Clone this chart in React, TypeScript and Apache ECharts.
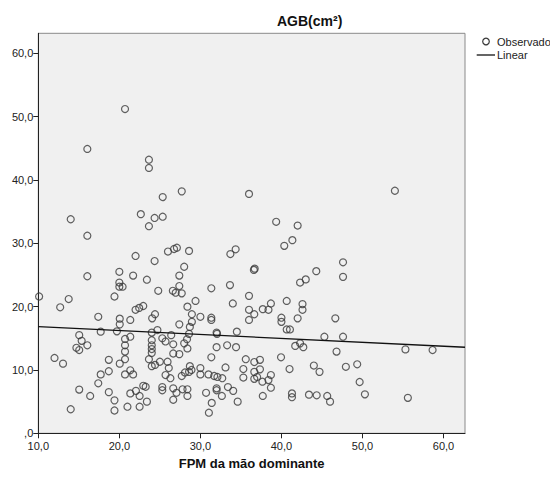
import React, { useEffect, useRef } from "react";
import * as echarts from "echarts";

// Tick values
const xTicks = [10, 20, 30, 40, 50, 60];
const yTicks = [0, 10, 20, 30, 40, 50, 60];

// Observed points: [FPM da mão dominante, AGB(cm²)]
const observados: [number, number][] = [
  [20.7, 51.2], [16.05, 44.9], [23.65, 43.2], [23.65, 41.9], [27.7, 38.2], [25.35, 37.3],
  [14.0, 33.8], [22.65, 34.6], [24.35, 34.0], [25.35, 34.2], [23.65, 32.7], [16.05, 31.2],
  [22.0, 28.0], [24.35, 27.2], [26.0, 28.7], [26.75, 29.1], [27.1, 29.3], [28.6, 28.8],
  [28.0, 26.3], [20.0, 25.5],
  [36.0, 37.8], [39.35, 33.4], [42.0, 32.8], [41.35, 30.5], [40.35, 29.6], [34.35, 29.05],
  [33.7, 28.3], [36.6, 25.8], [36.7, 26.0], [44.3, 25.6], [47.6, 27.0],
  [54.0, 38.3],
  [10.1, 21.6], [16.05, 24.8], [21.7, 24.9], [20.0, 23.8], [20.0, 23.15], [20.4, 23.15],
  [19.4, 21.6], [13.75, 21.2], [12.7, 19.9], [17.4, 18.4], [20.05, 18.1], [20.05, 17.2],
  [21.35, 17.9], [17.7, 16.05], [19.7, 16.1], [15.05, 15.5], [15.35, 14.6], [14.7, 13.5],
  [15.05, 13.15], [16.05, 13.9], [20.7, 14.9], [21.35, 15.25], [20.7, 13.9], [20.7, 12.9],
  [20.7, 11.7], [20.05, 11.0], [18.7, 11.6], [12.0, 11.9], [13.05, 11.0], [21.35, 9.95],
  [20.7, 9.3], [21.7, 9.3], [18.7, 9.8], [17.7, 9.3], [17.4, 7.9], [15.05, 6.9],
  [16.4, 5.9], [18.7, 6.5], [19.4, 5.2], [21.35, 6.3], [22.05, 6.7], [22.5, 5.9],
  [14.0, 3.8], [19.4, 3.6], [21.0, 4.2], [22.5, 4.2],
  [27.4, 24.9], [23.4, 24.25], [27.4, 23.25], [24.8, 22.5], [26.6, 22.5], [26.95, 22.2],
  [27.7, 22.1], [31.35, 22.9], [33.65, 23.4], [29.4, 20.9], [28.4, 20.0], [34.0, 20.5],
  [22.0, 19.5], [22.45, 19.8], [22.95, 20.1], [28.95, 18.8], [30.0, 18.4], [31.35, 18.25],
  [31.35, 17.9], [24.4, 18.8], [24.05, 18.15], [27.4, 17.2], [28.95, 17.6], [28.7, 16.8],
  [24.0, 15.9], [24.7, 16.3], [25.3, 15.0], [25.7, 14.5], [26.4, 15.5], [28.6, 15.7],
  [28.35, 14.85], [28.0, 14.2], [32.0, 15.9], [32.05, 15.7], [34.5, 16.05], [24.0, 14.7],
  [24.0, 13.9], [24.0, 13.3], [24.0, 12.7], [26.65, 14.05], [26.65, 12.6], [27.4, 12.5],
  [28.4, 13.4], [31.35, 12.0], [32.0, 13.6], [33.3, 13.9], [34.4, 13.6], [23.65, 11.7],
  [24.0, 10.6], [24.4, 10.8], [25.0, 11.3], [25.95, 11.3], [26.1, 10.3], [25.7, 9.2],
  [26.3, 8.7], [28.7, 10.6], [28.9, 10.0], [28.6, 9.7], [28.1, 9.6], [27.7, 9.05],
  [30.0, 10.3], [30.0, 9.3], [31.0, 9.3], [31.7, 9.05], [32.1, 8.9], [32.7, 8.7],
  [33.1, 10.4], [22.95, 7.5], [23.25, 7.35], [25.3, 7.3], [25.3, 6.8], [26.65, 7.1],
  [27.05, 6.4], [27.8, 6.95], [28.4, 6.95], [28.4, 5.9], [26.65, 5.3], [30.7, 6.4],
  [32.0, 7.1], [32.0, 6.8], [32.65, 5.9], [33.4, 7.3], [34.05, 6.7], [31.4, 4.8],
  [31.05, 3.25], [34.6, 5.0], [23.4, 5.0],
  [42.3, 23.8], [43.0, 24.3], [36.0, 21.7], [36.0, 19.5], [36.0, 17.9], [36.65, 18.8],
  [37.7, 19.6], [38.4, 19.5], [38.7, 20.5], [40.65, 20.9], [42.6, 20.4], [42.6, 19.5],
  [42.0, 18.15], [40.0, 18.25], [40.0, 17.6], [40.65, 16.4], [41.05, 16.4], [46.65, 18.15],
  [45.3, 15.25], [41.7, 13.8], [42.3, 14.2], [42.7, 13.6], [46.8, 12.9], [35.6, 11.7],
  [36.65, 11.25], [37.35, 11.6], [35.3, 10.15], [35.3, 8.8], [36.65, 9.7], [37.35, 10.1],
  [36.65, 8.6], [37.0, 8.9], [37.65, 8.15], [38.4, 8.4], [38.7, 9.2], [38.7, 7.2],
  [39.95, 12.0], [41.0, 10.15], [44.0, 10.7], [44.7, 9.7], [37.7, 5.9], [41.3, 6.3],
  [41.3, 5.7], [43.4, 6.1], [44.35, 6.0], [45.65, 5.9], [46.0, 5.0],
  [47.6, 24.7], [47.6, 15.25], [47.95, 10.5], [49.35, 10.9], [49.65, 8.1], [50.3, 6.15],
  [55.3, 13.25], [58.65, 13.15], [55.6, 5.6],
];

// Linear fit
const fitIntercept = 17.45;
const fitSlope = -0.0617;

const X_MIN = 10;
const X_MAX = 62.65;
const Y_MIN = 0;
const Y_MAX = 63.16;

const FONT = "'Liberation Sans', Arial, sans-serif";

const fmt = (v: number) => (v === 0 ? ",0" : v.toFixed(1).replace(".", ","));

export default function App() {
  const ref = useRef<HTMLDivElement>(null);

  useEffect(() => {
    if (!ref.current) return;
    const chart = echarts.init(ref.current, undefined, { renderer: "svg" });
    const fitLine = [X_MIN, X_MAX].map((x) => [x, fitIntercept + fitSlope * x]);

    chart.setOption({
      animation: false,
      backgroundColor: "#ffffff",
      title: {
        text: "AGB(cm²)",
        left: 277,
        top: 14,
        padding: 0,
        textStyle: { fontFamily: FONT, fontSize: 14, fontWeight: "bold", color: "#111" },
      },
      grid: {
        left: 38.3,
        top: 33.3,
        right: 85,
        bottom: 44.7,
        show: true,
        backgroundColor: "#f0f0f0",
        borderColor: "#8a8a8a",
        borderWidth: 1,
      },
      xAxis: {
        type: "value",
        min: X_MIN,
        max: X_MAX,
        interval: 10,
        splitLine: { show: false },
        axisLine: { show: true, onZero: false, lineStyle: { color: "#222", width: 1 } },
        axisTick: { show: true, length: 5, customValues: xTicks, lineStyle: { color: "#222" } },
        axisLabel: {
          customValues: xTicks,
          formatter: fmt,
          margin: 7,
          fontFamily: FONT,
          fontSize: 11,
          color: "#222",
        },
        name: "FPM da mão dominante",
        nameLocation: "middle",
        nameGap: 24,
        nameTextStyle: { fontFamily: FONT, fontSize: 13, fontWeight: "bold", color: "#111" },
      },
      yAxis: {
        type: "value",
        min: Y_MIN,
        max: Y_MAX,
        interval: 10,
        splitLine: { show: false },
        axisLine: { show: true, onZero: false, lineStyle: { color: "#222", width: 1 } },
        axisTick: { show: true, length: 5, customValues: yTicks, lineStyle: { color: "#222" } },
        axisLabel: {
          customValues: yTicks,
          formatter: fmt,
          margin: 5,
          fontFamily: FONT,
          fontSize: 11,
          color: "#222",
        },
      },
      series: [
        {
          name: "Observado",
          type: "scatter",
          data: observados,
          symbol: "circle",
          symbolSize: 7,
          itemStyle: { color: "transparent", borderColor: "#3a3a3a", borderWidth: 1.2 },
          z: 3,
        },
        {
          name: "Linear",
          type: "line",
          data: fitLine,
          symbol: "none",
          lineStyle: { color: "#111", width: 1.3 },
          z: 4,
        },
      ],
      graphic: [
        {
          type: "circle",
          shape: { cx: 486, cy: 41.5, r: 3.3 },
          style: { fill: "none", stroke: "#3a3a3a", lineWidth: 1.2 },
        },
        {
          type: "text",
          x: 497,
          y: 41.5,
          style: {
            text: "Observado",
            fontFamily: FONT,
            fontSize: 11,
            fill: "#222",
            textVerticalAlign: "middle",
            verticalAlign: "middle",
          },
        },
        {
          type: "line",
          shape: { x1: 476.7, y1: 55, x2: 495, y2: 55 },
          style: { stroke: "#111", lineWidth: 1.3 },
        },
        {
          type: "text",
          x: 497,
          y: 55,
          style: {
            text: "Linear",
            fontFamily: FONT,
            fontSize: 11,
            fill: "#222",
            textVerticalAlign: "middle",
            verticalAlign: "middle",
          },
        },
      ],
    });

    return () => chart.dispose();
  }, []);

  return (
    <div
      ref={ref}
      style={{ position: "fixed", left: 0, top: 0, width: 550, height: 478, background: "#fff" }}
    />
  );
}
